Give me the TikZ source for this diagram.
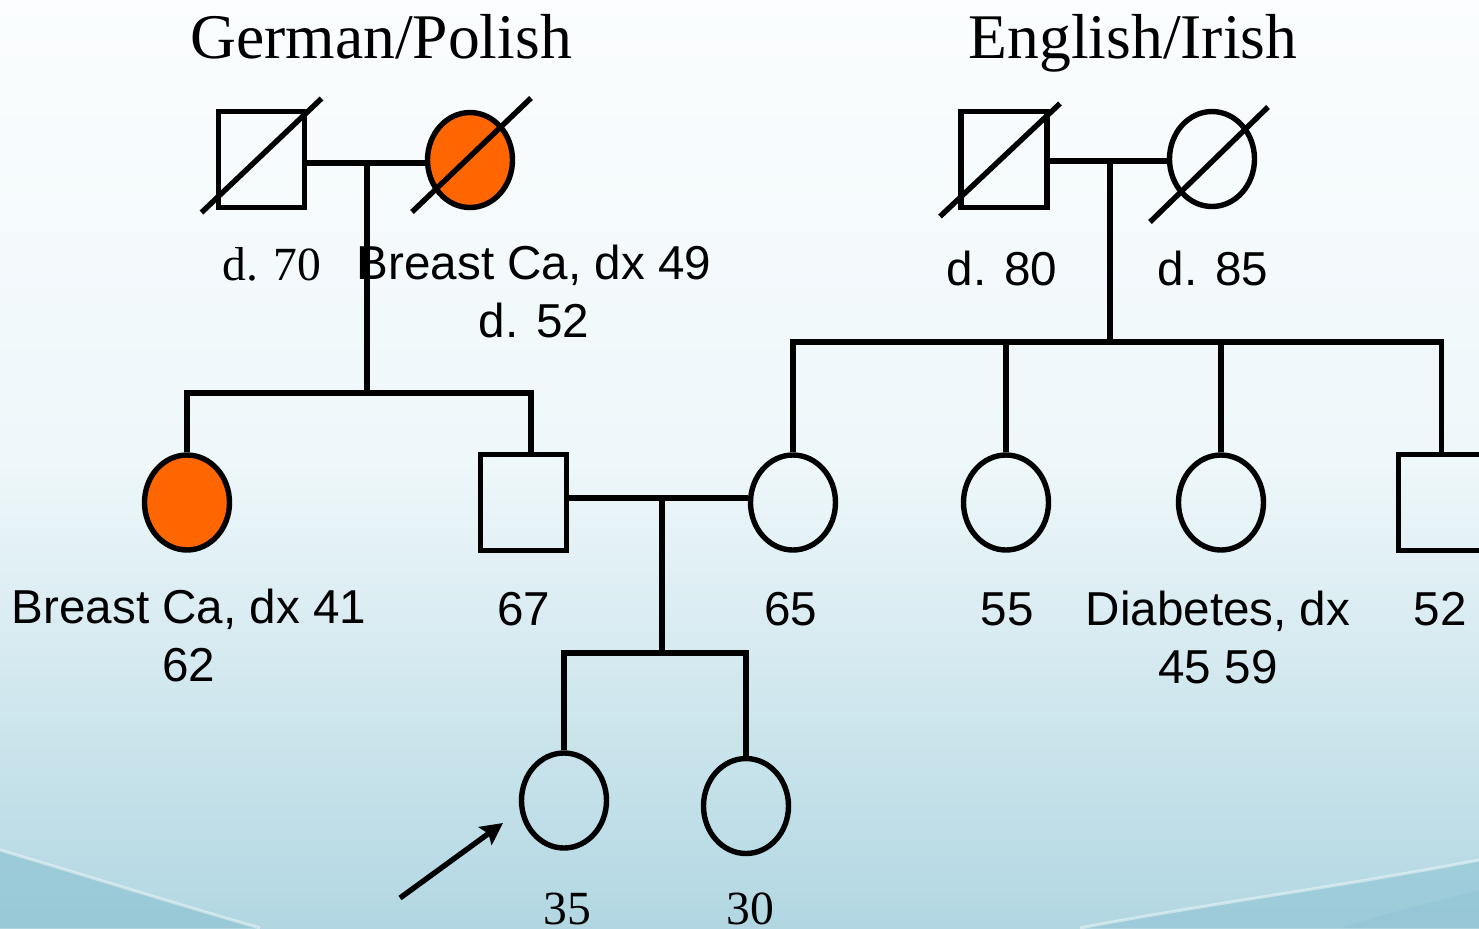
\documentclass[tikz,border=0pt]{standalone}
\usepackage{fontspec}
\setmainfont{Liberation Serif}
\newfontfamily\arialf{Liberation Sans}
\usetikzlibrary{shapes.geometric,arrows.meta,calc}
\definecolor{orfill}{HTML}{FF6600}
\definecolor{bgtop}{HTML}{FBFDFE}
\definecolor{bgmid}{HTML}{EEF7FA}
\definecolor{bgbot}{HTML}{B2D7E2}
\definecolor{bgdark}{HTML}{8CC2D2}
\tikzset{
  pline/.style={line width=2.7pt},
  male/.style={draw, line width=2.7pt, rectangle, minimum width=43pt, minimum height=48pt, inner sep=0pt},
  female/.style={draw, line width=2.7pt, ellipse, minimum width=42.5pt, minimum height=47.5pt, inner sep=0pt},
  affected/.style={fill=orfill},
  slash/.style={line width=2.7pt},
  lbl/.style={font=\arialf\fontsize{23.8}{29}\selectfont, align=center, anchor=base, inner sep=0pt},
  slbl/.style={font=\fontsize{23.8}{29}\selectfont, anchor=base, inner sep=0pt},
  titlelbl/.style={font=\fontsize{31.8}{38}\selectfont, anchor=base, inner sep=0pt},
}
\begin{document}
\begin{tikzpicture}[x=0.5pt,y=-0.5pt]
\useasboundingbox (0,0) rectangle (1479,928);
\clip (0,0) rectangle (1479,928);
% background
\shade[top color=bgtop, bottom color=bgbot, middle color=bgmid] (0,0) rectangle (1479,928);
\fill[bgdark, opacity=0.65] (0,850) .. controls (100,880) and (180,905) .. (260,928) -- (0,928) -- cycle;
\draw[white, opacity=0.45, line width=1.5pt] (0,850) .. controls (100,880) and (180,905) .. (260,928);
\fill[bgdark, opacity=0.55] (1479,860) .. controls (1350,885) and (1200,905) .. (1080,928) -- (1479,928) -- cycle;
\draw[white, opacity=0.45, line width=1.5pt] (1479,860) .. controls (1350,885) and (1200,905) .. (1080,928);
\fill[bgdark, opacity=0.35] (1479,890) .. controls (1420,905) and (1380,915) .. (1340,928) -- (1479,928) -- cycle;

% titles
\node[titlelbl] (tgp) at (381,58) {German/Polish};
\node[titlelbl] (tei) at (1133,58) {English/Irish};

% generation I
\node[male] (gpgf) at (261.5,159.5) {};
\node[female, affected] (gpgm) at (470,160) {};
\node[male] (eigf) at (1004,159.5) {};
\node[female] (eigm) at (1212,159) {};
\draw[slash] ($(gpgf)+(-60,53)$) -- ($(gpgf)+(60,-61)$);
\draw[slash] ($(gpgm)+(-58,52)$) -- ($(gpgm)+(61,-62)$);
\draw[slash] ($(eigf)+(-64,57)$) -- ($(eigf)+(56,-56)$);
\draw[slash] ($(eigm)+(-62,63)$) -- ($(eigm)+(56,-52)$);

% generation II
\node[female, affected] (aunt1) at (187,502.5) {};
\node[male] (father) at (523.5,502.5) {};
\node[female] (mother) at (793,502.5) {};
\node[female] (aunt2) at (1006,502.5) {};
\node[female] (aunt3) at (1221,502.5) {};
\node[male] (uncle) at (1441.5,502.5) {};

% generation III
\node[female] (c1) at (564,800.5) {};
\node[female] (c2) at (746,806) {};

% connectors German/Polish
\coordinate (gpm) at (367,163);
\coordinate (gps) at (367,393);
\coordinate (gpsr) at (531,393);
\draw[pline] (gpgf.east |- gpm) -- (gpgm.west |- gpm);
\draw[pline] (gpm) -- (gps);
\draw[pline] (aunt1.north) |- (gpsr) -- (gpsr |- father.north);

% connectors English/Irish
\coordinate (eim) at (1110,161);
\coordinate (eis) at (1110,342);
\draw[pline] (eigf.east |- eim) -- (eigm.west |- eim);
\draw[pline] (eim) -- (eis);
\draw[pline] (mother.north) |- (uncle.north |- eis) -- (uncle.north);
\draw[pline] (aunt2.north) -- (aunt2.north |- eis);
\draw[pline] (aunt3.north) -- (aunt3.north |- eis);

% parents and children
\coordinate (pm) at (662,498);
\coordinate (ps) at (662,653);
\draw[pline] (father.east |- pm) -- (mother.west |- pm);
\draw[pline] (pm) -- (ps);
\draw[pline] (c1.north) |- (c2.north |- ps) -- (c2.north);

% proband arrow
\coordinate (arrtail) at (400,898);
\coordinate (arrtip) at (503,823);
\draw[line width=2.7pt, -{Stealth[length=11pt,width=11pt,inset=2pt]}] (arrtail) -- (arrtip);

% labels
\node[slbl] (l70) at (272,280) {d. 70};
\node[lbl] (lgm) at (534,337) {Breast Ca, dx 49\\d. 52};
\node[lbl] (l80) at (1002,285) {d. 80};
\node[lbl] (l85) at (1213,285) {d. 85};
\node[lbl] (la1) at (189,681) {Breast Ca, dx 41\\62};
\node[lbl] (lf) at (524,625) {67};
\node[lbl] (lm) at (791,625) {65};
\node[lbl] (la2) at (1007,625) {55};
\node[lbl] (la3) at (1218,683) {Diabetes, dx\\45 59};
\node[lbl] (lu) at (1440,625) {52};
\node[slbl] (lc1) at (567,924) {35};
\node[slbl] (lc2) at (750,924) {30};
\end{tikzpicture}
\end{document}
